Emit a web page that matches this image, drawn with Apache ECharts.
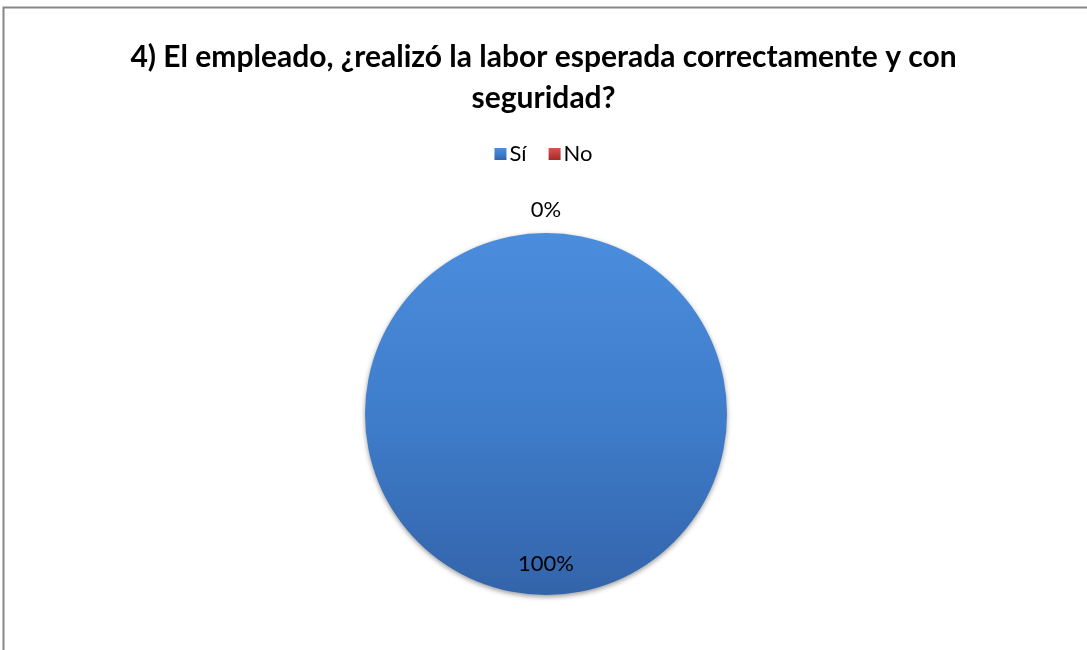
<!DOCTYPE html>
<html><head><meta charset="utf-8">
<script src="https://cdn.jsdelivr.net/npm/echarts@6/dist/echarts.min.js"></script>
<style>html,body{margin:0;padding:0;background:#fff}#c{width:1087px;height:650px}</style>
</head><body><div id="c"></div>
<script>
const titleText = '4) El empleado, ¿realizó la labor esperada correctamente y con\nseguridad?';
const categories = ['Sí', 'No'];
const values = [100, 0];
const labels = ['100%', '0%'];

const FONT = 'Lato';
const blueGrad = {type:'linear',x:0,y:0,x2:0,y2:1,colorStops:[{offset:0,color:'#4b8ddd'},{offset:0.5,color:'#3f7dcb'},{offset:1,color:'#3364aa'}]};
const redGrad = {type:'linear',x:0,y:0,x2:0,y2:1,colorStops:[{offset:0,color:'#d9534f'},{offset:1,color:'#a52a2a'}]};
const colors = [blueGrad, redGrad];
const offsets = [[0, 56], [0, -111]];

const chart = echarts.init(document.getElementById('c'));
chart.setOption({
  animation:false,
  graphic:[{type:'rect',shape:{x:3.5,y:7.5,width:1200,height:800},style:{fill:'none',stroke:'#878787',lineWidth:2},silent:true}],
  title:{text:titleText,left:'center',top:32,textStyle:{fontFamily:FONT,fontWeight:'bold',fontSize:30,color:'#000',lineHeight:41}},
  legend:{data:categories,top:138,left:'center',itemWidth:12,itemHeight:12,itemGap:22,icon:'rect',
    textStyle:{fontFamily:FONT,fontSize:22,color:'#000',padding:[0,0,0,-2]}},
  series:[{
    type:'pie',center:[546,414],radius:[0,181],startAngle:90,clockwise:true,
    minShowLabelAngle:0,avoidLabelOverlap:false,
    itemStyle:{borderWidth:0,shadowBlur:5,shadowColor:'rgba(0,0,0,0.4)',shadowOffsetY:2},
    label:{position:'inside',fontFamily:FONT,fontSize:22,color:'#000'},
    labelLine:{show:false},
    data:categories.map((c,i)=>({name:c,value:values[i],itemStyle:{color:colors[i]},
      label:{formatter:labels[i],offset:offsets[i]}}))
  }]
});
</script></body></html>
